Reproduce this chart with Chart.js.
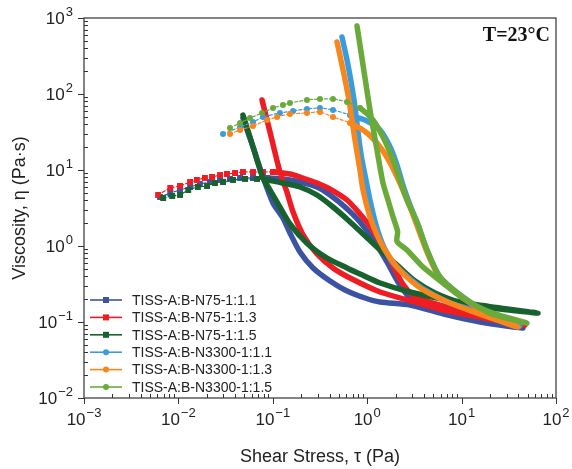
<!DOCTYPE html>
<html>
<head>
<meta charset="utf-8">
<script src="https://cdn.jsdelivr.net/npm/chart.js@4.4.1/dist/chart.umd.min.js"></script>
<style>
    html, body { margin: 0; padding: 0; background: #fff; }
    #wrap { width: 572px; height: 469px; position: relative; }
</style>
</head>
<body>
<div id="wrap"><canvas id="viscChart"></canvas></div>
<script>
// 图例名称
const seriesLabels = [
    'TISS-A:B-N75-1:1.1', 'TISS-A:B-N75-1:1.3', 'TISS-A:B-N75-1:1.5',
    'TISS-A:B-N3300-1:1.1', 'TISS-A:B-N3300-1:1.3', 'TISS-A:B-N3300-1:1.5'
];

// shear stress (Pa) / viscosity (Pa·s): up ramp, then down ramp back
const stressN75_11 = [0.0064, 0.0082, 0.0104, 0.0133, 0.0169, 0.0216, 0.0276, 0.0352, 0.045, 0.0617, 0.0869,
    0.128, 0.194, 0.294, 0.404, 0.582, 0.839, 1.21, 1.62, 2.12, 2.84, 4.62, 9.62, 44.7,
    15.7, 7.0, 2.84, 1.37, 0.948, 0.582, 0.404, 0.267, 0.194, 0.152, 0.128, 0.1005, 0.0787, 0.0617, 0.0483];
const viscN75_11 = [4.41, 4.98, 5.45, 5.98, 6.54, 6.95, 7.39, 7.62, 7.85, 7.85, 7.85,
    7.62, 6.95, 5.98, 4.69, 3.26, 2.07, 1.13, 0.616, 0.336, 0.207, 0.153, 0.120, 0.0834,
    0.100, 0.124, 0.167, 0.183, 0.207, 0.264, 0.346, 0.514, 0.834, 1.48, 2.34, 3.68, 8.09, 20.1, 48.3];

const stressN75_13 = [0.0061, 0.0082, 0.0104, 0.0133, 0.0157, 0.0191, 0.0227, 0.0276, 0.0327, 0.0398, 0.0483, 0.0617, 0.0787, 0.1005,
    0.152, 0.194, 0.294, 0.404, 0.611, 0.839, 1.15, 1.47, 1.88, 2.39, 3.21, 7.0, 15.7, 46.9,
    20.0, 7.0, 3.21, 1.37, 0.658, 0.434, 0.294, 0.209, 0.164, 0.141, 0.119, 0.0934, 0.0769];
const viscN75_13 = [4.69, 5.80, 6.16, 6.95, 7.39, 7.85, 8.09, 8.59, 8.86, 9.13, 9.41, 9.41, 9.41, 9.41,
    8.86, 8.09, 6.74, 5.62, 4.03, 2.64, 1.62, 0.970, 0.545, 0.316, 0.213, 0.157, 0.120, 0.091,
    0.109, 0.140, 0.183, 0.248, 0.379, 0.514, 0.785, 1.40, 2.80, 5.14, 9.41, 31.6, 83.4];

const stressN75_15 = [0.0069, 0.0086, 0.0104, 0.0127, 0.0161, 0.0201, 0.0244, 0.0297, 0.0379, 0.0508, 0.0681, 0.0889,
    0.128, 0.194, 0.294, 0.434, 0.626, 0.903, 1.37, 2.07, 3.21, 5.22, 9.62, 25.5, 64.4,
    25.5, 15.7, 7.0, 2.84, 1.37, 0.839, 0.611, 0.375, 0.230, 0.152, 0.111, 0.0934, 0.0787, 0.0681, 0.0573, 0.0483];
const viscN75_15 = [4.28, 4.55, 4.69, 5.45, 5.98, 6.16, 6.74, 6.95, 7.39, 7.62, 7.62, 7.39,
    6.74, 5.98, 4.69, 3.26, 2.20, 1.44, 0.886, 0.562, 0.346, 0.241, 0.183, 0.153, 0.131,
    0.148, 0.163, 0.195, 0.248, 0.326, 0.428, 0.514, 0.695, 1.09, 1.95, 3.79, 5.45, 7.85, 13.5, 27.2, 52.9];

const stressN3300_11 = [0.0297, 0.045, 0.0617, 0.0787, 0.119, 0.164, 0.230, 0.316, 0.434, 0.658, 0.995,
    1.37, 1.75, 2.07, 2.39, 2.84, 3.45, 4.30, 5.90, 10.3, 20.0, 41.5,
    15.7, 7.53, 4.09, 2.70, 1.88, 1.47, 1.24, 1.07, 0.971, 0.881, 0.819, 0.725, 0.626, 0.541];
const viscN3300_11 = [29.8, 36.8, 42.8, 49.8, 56.2, 59.7, 63.5, 65.5, 61.6, 52.9, 44.2,
    33.6, 20.1, 11.6, 6.35, 3.46, 1.89, 0.886, 0.391, 0.213, 0.124, 0.0886,
    0.135, 0.178, 0.264, 0.391, 0.597, 1.03, 1.89, 4.03, 7.39, 13.5, 24.8, 83.4, 241, 562];

const stressN3300_13 = [0.0352, 0.045, 0.0617, 0.0869, 0.111, 0.152, 0.230, 0.316, 0.434, 0.658, 0.995,
    1.37, 1.75, 2.22, 2.84, 3.45, 4.30, 5.90, 10.3, 20.0, 39.5,
    15.7, 7.53, 4.09, 2.84, 2.07, 1.54, 1.27, 1.07, 0.903, 0.839, 0.743, 0.641, 0.555, 0.479];
const viscN3300_13 = [29.8, 33.6, 37.9, 45.5, 49.8, 54.6, 56.2, 58.0, 49.8, 41.5, 30.7,
    20.1, 12.4, 6.74, 3.26, 1.72, 0.834, 0.379, 0.207, 0.124, 0.0859,
    0.127, 0.178, 0.256, 0.357, 0.529, 0.886, 1.40, 2.41, 5.45, 10, 24.8, 83.4, 207, 483];

const stressN3300_15 = [0.0352, 0.045, 0.0573, 0.0769, 0.1005, 0.128, 0.152, 0.230, 0.316, 0.434, 0.611, 0.839,
    1.15, 1.47, 1.88, 2.22, 2.64, 3.37, 4.30, 5.90, 10.3, 20.0, 49.2,
    20.0, 10.3, 6.35, 3.90, 2.64, 2.07, 2.10, 1.88, 1.66, 1.47, 1.27, 1.07, 0.903, 0.780];
const viscN3300_15 = [35.7, 41.5, 48.3, 56.2, 65.5, 71.6, 76.2, 83.4, 85.9, 85.9, 78.5, 65.5,
    45.5, 27.2, 13.5, 7.39, 4.03, 2.07, 0.886, 0.391, 0.213, 0.131, 0.097,
    0.135, 0.207, 0.326, 0.529, 0.886, 1.15, 1.55, 2.41, 4.03, 6.74, 18.3, 61.6, 241, 785];

// 坐标轴刻度 (10 的幂)
const xTicks = [0.001, 0.01, 0.1, 1, 10, 100];
const xTickExps = ['−3', '−2', '−1', '0', '1', '2'];
const yTicks = [0.01, 0.1, 1, 10, 100, 1000];
const yTickExps = ['−2', '−1', '0', '1', '2', '3'];

// 样式
const seriesColors = ['#3c53a4', '#ee1d24', '#17622f', '#3b9cdc', '#f7861e', '#6aaa3a'];
const markerShapes = ['rect', 'rect', 'rect', 'circle', 'circle', 'circle'];
const markerCounts = [11, 14, 12, 10, 10, 12];   // separate markers at the low-stress start

const stressData = [stressN75_11, stressN75_13, stressN75_15, stressN3300_11, stressN3300_13, stressN3300_15];
const viscData = [viscN75_11, viscN75_13, viscN75_15, viscN3300_11, viscN3300_13, viscN3300_15];

const FONT = '"Liberation Sans", Arial, sans-serif';
const TEXT_COLOR = '#222';

// 画 10^n 形式的刻度标签
function drawPower(ctx, exp, x, y, align) {
    ctx.font = '17px ' + FONT;
    const wBase = ctx.measureText('10').width;
    ctx.font = '13px ' + FONT;
    const wExp = ctx.measureText(exp).width;
    const total = wBase + 1 + wExp;
    let left = x - total / 2;
    if (align === 'right') left = x - total;
    ctx.textAlign = 'left';
    ctx.textBaseline = 'alphabetic';
    ctx.font = '17px ' + FONT;
    ctx.fillText('10', left, y);
    ctx.font = '13px ' + FONT;
    ctx.fillText(exp, left + wBase + 1, y - 8);
}

// 框线 + 刻度 + 标签 + 标注
const framePlugin = {
    id: 'frame',
    afterDraw(chart) {
        const { ctx, chartArea: a, scales } = chart;
        ctx.save();
        ctx.strokeStyle = '#333';
        ctx.lineWidth = 1.2;
        ctx.strokeRect(a.left, a.top, a.right - a.left, a.bottom - a.top);
        ctx.lineWidth = 1;
        ctx.beginPath();
        xTicks.forEach((d, di) => {
            for (let k = 1; k <= 9; k++) {
                if (k > 1 && di === xTicks.length - 1) break;
                const px = Math.round(scales.x.getPixelForValue(d * k)) + 0.5;
                if (k === 1) { ctx.moveTo(px, a.bottom); ctx.lineTo(px, a.bottom + 6); }
                else { ctx.moveTo(px, a.bottom); ctx.lineTo(px, a.bottom - 4); }
            }
        });
        yTicks.forEach((d, di) => {
            for (let k = 1; k <= 9; k++) {
                if (k > 1 && di === yTicks.length - 1) break;
                const py = Math.round(scales.y.getPixelForValue(d * k)) + 0.5;
                if (k === 1) { ctx.moveTo(a.left, py); ctx.lineTo(a.left - 6, py); }
                else { ctx.moveTo(a.left, py); ctx.lineTo(a.left + 4, py); }
            }
        });
        ctx.stroke();

        ctx.fillStyle = TEXT_COLOR;
        xTicks.forEach((v, i) => drawPower(ctx, xTickExps[i], scales.x.getPixelForValue(v), a.bottom + 27, 'center'));
        yTicks.forEach((v, i) => drawPower(ctx, yTickExps[i], a.left - 11, scales.y.getPixelForValue(v) + 6, 'right'));

        // y 轴标题
        ctx.save();
        ctx.translate(20, (a.top + a.bottom) / 2);
        ctx.rotate(-Math.PI / 2);
        ctx.font = '18px ' + FONT;
        ctx.textAlign = 'center';
        ctx.textBaseline = 'middle';
        ctx.fillText('Viscosity, η (Pa·s)', 0, 0);
        ctx.restore();

        // 温度标注
        ctx.fillStyle = '#111';
        ctx.font = 'bold 20px "Liberation Serif", "Times New Roman", serif';
        ctx.textAlign = 'right';
        ctx.textBaseline = 'alphabetic';
        ctx.fillText('T=23°C', a.right - 6, a.top + 23);
        ctx.restore();
    }
};

// 图内图例
const legendPlugin = {
    id: 'insideLegend',
    afterDraw(chart) {
        const { ctx, chartArea: a } = chart;
        const x0 = a.left + 6;
        const y0 = a.bottom - 98;
        const rowH = 17.4;
        ctx.save();
        chart.data.datasets.forEach((ds, i) => {
            const y = y0 + i * rowH;
            ctx.strokeStyle = ds.borderColor;
            ctx.lineWidth = 1.6;
            ctx.beginPath();
            ctx.moveTo(x0, y);
            ctx.lineTo(x0 + 32, y);
            ctx.stroke();
            ctx.fillStyle = ds.borderColor;
            if (markerShapes[i] === 'rect') {
                ctx.fillRect(x0 + 13, y - 3, 6, 6);
            } else {
                ctx.beginPath();
                ctx.arc(x0 + 16, y, 3, 0, Math.PI * 2);
                ctx.fill();
            }
            ctx.fillStyle = TEXT_COLOR;
            ctx.font = '14px ' + FONT;
            ctx.textAlign = 'left';
            ctx.textBaseline = 'middle';
            ctx.fillText(ds.label, x0 + 42, y + 1);
        });
        ctx.restore();
    }
};

const datasets = stressData.map((xs, i) => ({
    label: seriesLabels[i],
    data: xs.map((x, j) => ({ x: x, y: viscData[i][j] })),
    showLine: true,
    borderColor: seriesColors[i],
    backgroundColor: seriesColors[i],
    borderWidth: 5.5,
    borderCapStyle: 'round',
    borderJoinStyle: 'round',
    tension: 0.25,
    pointStyle: markerShapes[i],
    pointRadius: ctx => ctx.dataIndex < markerCounts[i] ? (markerShapes[i] === 'rect' ? 4.2 : 3) : 0,
    pointBorderWidth: 0,
    pointHoverRadius: 0,
    segment: {
        borderWidth: ctx => ctx.p0DataIndex < markerCounts[i] - 1 ? 1.2 : undefined,
        borderDash: ctx => ctx.p0DataIndex < markerCounts[i] - 1 ? [3, 2] : undefined
    },
    order: seriesLabels.length - 1 - i
}));

const chart = new Chart(document.getElementById('viscChart').getContext('2d'), {
    type: 'scatter',
    data: { datasets: datasets },
    plugins: [framePlugin, legendPlugin],
    options: {
        responsive: true,
        maintainAspectRatio: false,
        animation: false,
        events: [],
        layout: { padding: { left: 0, right: 16, top: 18, bottom: 0 } },
        plugins: {
            legend: { display: false },
            tooltip: { enabled: false }
        },
        scales: {
            x: {
                type: 'logarithmic',
                min: xTicks[0],
                max: xTicks[xTicks.length - 1],
                grid: { display: false, drawTicks: false },
                border: { display: false },
                ticks: { display: false },
                title: {
                    display: true,
                    text: 'Shear Stress, τ (Pa)',
                    color: TEXT_COLOR,
                    font: { family: FONT, size: 18 },
                    padding: { top: 0, bottom: 1 }
                },
                afterFit(scale) { scale.height = 71; }
            },
            y: {
                type: 'logarithmic',
                min: yTicks[0],
                max: yTicks[yTicks.length - 1],
                grid: { display: false, drawTicks: false },
                border: { display: false },
                ticks: { display: false },
                afterFit(scale) { scale.width = 84; }
            }
        }
    }
});
</script>
</body>
</html>
